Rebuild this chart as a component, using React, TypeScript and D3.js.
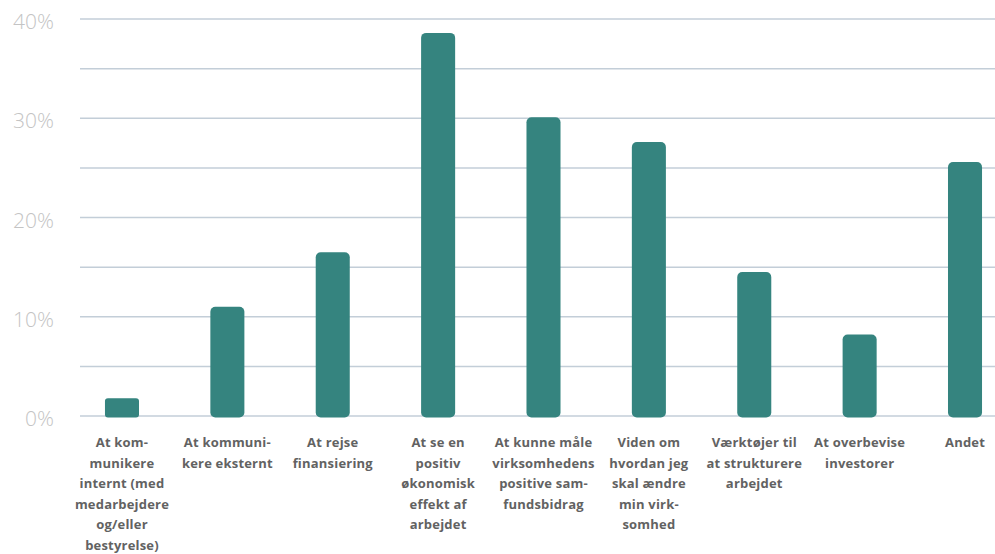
import React from "react";
import * as d3 from "d3";

const categories: string[][] = [
  ["At kom-", "munikere", "internt (med", "medarbejdere", "og/eller", "bestyrelse)"],
  ["At kommuni-", "kere eksternt"],
  ["At rejse", "finansiering"],
  ["At se en", "positiv", "økonomisk", "effekt af", "arbejdet"],
  ["At kunne måle", "virksomhedens", "positive sam-", "fundsbidrag"],
  ["Viden om", "hvordan jeg", "skal ændre", "min virk-", "somhed"],
  ["Værktøjer til", "at strukturere", "arbejdet"],
  ["At overbevise", "investorer"],
  ["Andet"],
];
const values: number[] = [1.8, 11.0, 16.5, 38.6, 30.1, 27.6, 14.5, 8.2, 25.6];
const gridValues: number[] = [0, 5, 10, 15, 20, 25, 30, 35, 40];
const tickValues: number[] = [0, 10, 20, 30, 40];

const W = 995;
const H = 554;

export default function App() {
  const x = d3
    .scaleBand<number>()
    .domain(values.map((_, i) => i))
    .range([69.3, 1017.7])
    .paddingInner(0.677)
    .paddingOuter(0.3385);
  const y = d3.scaleLinear().domain([0, 40]).range([416, 19]);
  const bw = x.bandwidth();

  return (
    <svg
      width={W}
      height={H}
      style={{ position: "absolute", left: 0, top: 0, background: "#fff" }}
    >
      {gridValues.map((g) => (
        <line
          key={g}
          x1={80}
          x2={W}
          y1={y(g)}
          y2={y(g)}
          stroke="#c3ced8"
          strokeWidth={1.5}
        />
      ))}
      {tickValues.map((t) => (
        <text
          key={t}
          x={54}
          y={y(t) + 10}
          textAnchor="end"
          fontFamily="'Open Sans', sans-serif"
          fontWeight={300}
          fontSize={21}
          fill="#c4c4c4"
        >
          {t}%
        </text>
      ))}
      {values.map((v, i) => {
        const x0 = x(i)!;
        const top = y(v);
        const r = Math.min(5, (y(0) - top) / 6);
        return (
          <rect
            key={i}
            x={x0}
            y={top}
            width={bw}
            height={y(0) - top + 1.5}
            rx={r}
            ry={r}
            fill="#35847f"
          />
        );
      })}
      {categories.map((lines, i) => {
        const cx = x(i)! + bw / 2;
        return (
          <text
            key={i}
            textAnchor="middle"
            fontFamily="'Open Sans', sans-serif"
            fontWeight={700}
            fontSize={13}
            letterSpacing={0.2}
            fill="#626262"
          >
            {lines.map((ln, j) => (
              <tspan key={j} x={cx} y={447 + j * 20.5}>
                {ln}
              </tspan>
            ))}
          </text>
        );
      })}
    </svg>
  );
}
